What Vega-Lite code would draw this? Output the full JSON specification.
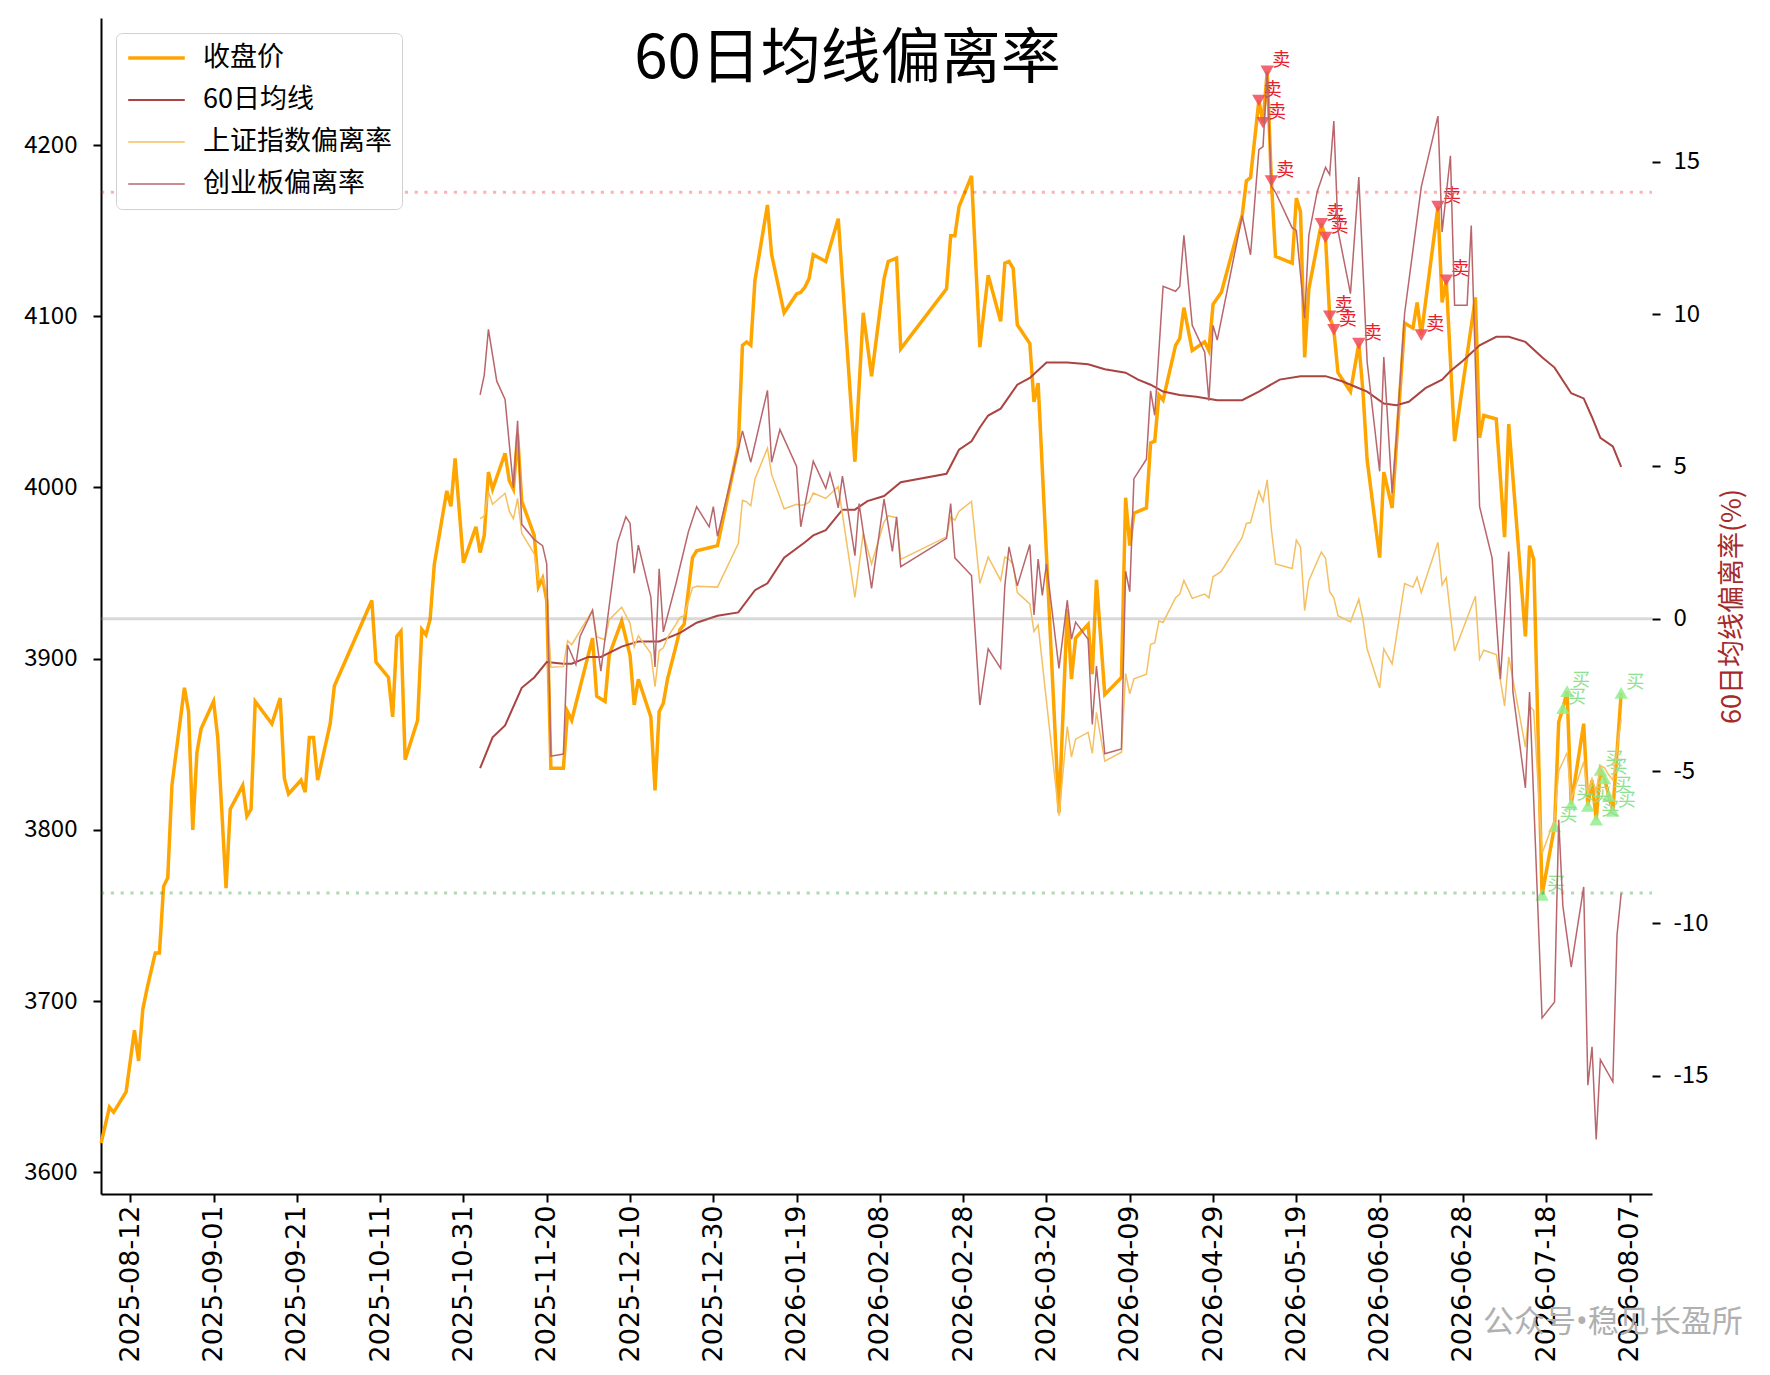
{
  "$schema": "https://vega.github.io/schema/vega-lite/v6.json",
  "width": 1551,
  "height": 1176,
  "autosize": "none",
  "padding": {"left": 101, "top": 18, "right": 118, "bottom": 181},
  "background": "#ffffff",
  "config": {
    "view": {"stroke": null},
    "font": "Noto Sans CJK SC",
    "axis": {"grid": false, "domainColor": "#000000", "tickColor": "#000000", "labelColor": "#000000", "domainWidth": 2, "tickWidth": 2, "tickSize": 8},
    "legend": {
      "orient": "top-left", "offset": 15, "fillColor": "#ffffff", "strokeColor": "#d0d0d0", "cornerRadius": 6, "padding": 10,
      "labelFont": "Noto Sans CJK SC", "labelFontSize": 27, "labelColor": "#000000", "labelOffset": 16, "labelLimit": 400,
      "symbolType": "stroke", "symbolSize": 3200, "clipHeight": 30, "rowPadding": 12
    }
  },
  "title": {"text": "60日均线偏离率", "orient": "top", "anchor": "middle", "frame": "group", "font": "Noto Sans CJK SC", "fontSize": 60, "fontWeight": "normal", "color": "#000000", "baseline": "middle", "offset": -41, "dx": -29, "dy": 61},
  "datasets": {
    "left": [
      {"d":"2025-08-05","s":"收盘价","v":3617},{"d":"2025-08-07","s":"收盘价","v":3638},{"d":"2025-08-08","s":"收盘价","v":3635},{"d":"2025-08-11","s":"收盘价","v":3647},
      {"d":"2025-08-13","s":"收盘价","v":3683},{"d":"2025-08-14","s":"收盘价","v":3665},{"d":"2025-08-15","s":"收盘价","v":3695},{"d":"2025-08-16","s":"收盘价","v":3707},
      {"d":"2025-08-18","s":"收盘价","v":3728},{"d":"2025-08-19","s":"收盘价","v":3728},{"d":"2025-08-20","s":"收盘价","v":3767},{"d":"2025-08-21","s":"收盘价","v":3772},
      {"d":"2025-08-22","s":"收盘价","v":3826},{"d":"2025-08-25","s":"收盘价","v":3883},{"d":"2025-08-26","s":"收盘价","v":3869},{"d":"2025-08-27","s":"收盘价","v":3800},
      {"d":"2025-08-28","s":"收盘价","v":3845},{"d":"2025-08-29","s":"收盘价","v":3859},{"d":"2025-09-01","s":"收盘价","v":3875},{"d":"2025-09-02","s":"收盘价","v":3854},
      {"d":"2025-09-04","s":"收盘价","v":3766},{"d":"2025-09-05","s":"收盘价","v":3812},{"d":"2025-09-08","s":"收盘价","v":3826},{"d":"2025-09-09","s":"收盘价","v":3808},
      {"d":"2025-09-10","s":"收盘价","v":3812},{"d":"2025-09-11","s":"收盘价","v":3875},{"d":"2025-09-15","s":"收盘价","v":3862},{"d":"2025-09-17","s":"收盘价","v":3877},
      {"d":"2025-09-18","s":"收盘价","v":3830},{"d":"2025-09-19","s":"收盘价","v":3821},{"d":"2025-09-22","s":"收盘价","v":3829},{"d":"2025-09-23","s":"收盘价","v":3822},
      {"d":"2025-09-24","s":"收盘价","v":3854},{"d":"2025-09-25","s":"收盘价","v":3854},{"d":"2025-09-26","s":"收盘价","v":3829},{"d":"2025-09-29","s":"收盘价","v":3862},
      {"d":"2025-09-30","s":"收盘价","v":3884},{"d":"2025-10-09","s":"收盘价","v":3934},{"d":"2025-10-10","s":"收盘价","v":3898},{"d":"2025-10-13","s":"收盘价","v":3889},
      {"d":"2025-10-14","s":"收盘价","v":3866},{"d":"2025-10-15","s":"收盘价","v":3913},{"d":"2025-10-16","s":"收盘价","v":3916},{"d":"2025-10-17","s":"收盘价","v":3841},
      {"d":"2025-10-20","s":"收盘价","v":3864},{"d":"2025-10-21","s":"收盘价","v":3917},{"d":"2025-10-22","s":"收盘价","v":3914},{"d":"2025-10-23","s":"收盘价","v":3923},
      {"d":"2025-10-24","s":"收盘价","v":3955},{"d":"2025-10-27","s":"收盘价","v":3998},{"d":"2025-10-28","s":"收盘价","v":3989},{"d":"2025-10-29","s":"收盘价","v":4017},
      {"d":"2025-10-31","s":"收盘价","v":3956},{"d":"2025-11-03","s":"收盘价","v":3977},{"d":"2025-11-04","s":"收盘价","v":3962},{"d":"2025-11-05","s":"收盘价","v":3972},
      {"d":"2025-11-06","s":"收盘价","v":4009},{"d":"2025-11-07","s":"收盘价","v":3999},{"d":"2025-11-10","s":"收盘价","v":4020},{"d":"2025-11-11","s":"收盘价","v":4004},
      {"d":"2025-11-12","s":"收盘价","v":3999},{"d":"2025-11-13","s":"收盘价","v":4031},{"d":"2025-11-14","s":"收盘价","v":3992},{"d":"2025-11-17","s":"收盘价","v":3972},
      {"d":"2025-11-18","s":"收盘价","v":3942},{"d":"2025-11-19","s":"收盘价","v":3947},{"d":"2025-11-20","s":"收盘价","v":3934},{"d":"2025-11-21","s":"收盘价","v":3836},
      {"d":"2025-11-24","s":"收盘价","v":3836},{"d":"2025-11-25","s":"收盘价","v":3869},{"d":"2025-11-26","s":"收盘价","v":3864},{"d":"2025-12-01","s":"收盘价","v":3912},
      {"d":"2025-12-02","s":"收盘价","v":3878},{"d":"2025-12-04","s":"收盘价","v":3875},{"d":"2025-12-05","s":"收盘价","v":3902},{"d":"2025-12-08","s":"收盘价","v":3922},
      {"d":"2025-12-10","s":"收盘价","v":3902},{"d":"2025-12-11","s":"收盘价","v":3873},{"d":"2025-12-12","s":"收盘价","v":3888},{"d":"2025-12-15","s":"收盘价","v":3866},
      {"d":"2025-12-16","s":"收盘价","v":3823},{"d":"2025-12-17","s":"收盘价","v":3869},{"d":"2025-12-18","s":"收盘价","v":3874},{"d":"2025-12-19","s":"收盘价","v":3888},
      {"d":"2025-12-21","s":"收盘价","v":3907},{"d":"2025-12-22","s":"收盘价","v":3917},{"d":"2025-12-23","s":"收盘价","v":3920},{"d":"2025-12-25","s":"收盘价","v":3959},
      {"d":"2025-12-26","s":"收盘价","v":3963},{"d":"2025-12-31","s":"收盘价","v":3966},{"d":"2026-01-05","s":"收盘价","v":4024},{"d":"2026-01-06","s":"收盘价","v":4083},
      {"d":"2026-01-07","s":"收盘价","v":4085},{"d":"2026-01-08","s":"收盘价","v":4083},{"d":"2026-01-09","s":"收盘价","v":4121},{"d":"2026-01-12","s":"收盘价","v":4165},
      {"d":"2026-01-13","s":"收盘价","v":4136},{"d":"2026-01-16","s":"收盘价","v":4102},{"d":"2026-01-19","s":"收盘价","v":4113},{"d":"2026-01-20","s":"收盘价","v":4114},
      {"d":"2026-01-21","s":"收盘价","v":4117},{"d":"2026-01-22","s":"收盘价","v":4122},{"d":"2026-01-23","s":"收盘价","v":4136},{"d":"2026-01-26","s":"收盘价","v":4132},
      {"d":"2026-01-29","s":"收盘价","v":4157},{"d":"2026-02-02","s":"收盘价","v":4015},{"d":"2026-02-04","s":"收盘价","v":4102},{"d":"2026-02-06","s":"收盘价","v":4065},
      {"d":"2026-02-09","s":"收盘价","v":4122},{"d":"2026-02-10","s":"收盘价","v":4132},{"d":"2026-02-12","s":"收盘价","v":4134},{"d":"2026-02-13","s":"收盘价","v":4081},
      {"d":"2026-02-24","s":"收盘价","v":4116},{"d":"2026-02-25","s":"收盘价","v":4147},{"d":"2026-02-26","s":"收盘价","v":4147},{"d":"2026-02-27","s":"收盘价","v":4164},
      {"d":"2026-03-02","s":"收盘价","v":4182},{"d":"2026-03-04","s":"收盘价","v":4082},{"d":"2026-03-06","s":"收盘价","v":4124},{"d":"2026-03-09","s":"收盘价","v":4097},
      {"d":"2026-03-10","s":"收盘价","v":4131},{"d":"2026-03-11","s":"收盘价","v":4132},{"d":"2026-03-12","s":"收盘价","v":4128},{"d":"2026-03-13","s":"收盘价","v":4095},
      {"d":"2026-03-16","s":"收盘价","v":4084},{"d":"2026-03-17","s":"收盘价","v":4050},{"d":"2026-03-18","s":"收盘价","v":4061},{"d":"2026-03-23","s":"收盘价","v":3810},
      {"d":"2026-03-25","s":"收盘价","v":3929},{"d":"2026-03-26","s":"收盘价","v":3888},{"d":"2026-03-27","s":"收盘价","v":3912},{"d":"2026-03-30","s":"收盘价","v":3920},
      {"d":"2026-03-31","s":"收盘价","v":3891},{"d":"2026-04-01","s":"收盘价","v":3946},{"d":"2026-04-03","s":"收盘价","v":3879},{"d":"2026-04-07","s":"收盘价","v":3889},
      {"d":"2026-04-08","s":"收盘价","v":3994},{"d":"2026-04-09","s":"收盘价","v":3966},{"d":"2026-04-10","s":"收盘价","v":3985},{"d":"2026-04-13","s":"收盘价","v":3988},
      {"d":"2026-04-14","s":"收盘价","v":4026},{"d":"2026-04-15","s":"收盘价","v":4027},{"d":"2026-04-16","s":"收盘价","v":4054},{"d":"2026-04-17","s":"收盘价","v":4051},
      {"d":"2026-04-20","s":"收盘价","v":4083},{"d":"2026-04-21","s":"收盘价","v":4087},{"d":"2026-04-22","s":"收盘价","v":4105},{"d":"2026-04-24","s":"收盘价","v":4080},
      {"d":"2026-04-27","s":"收盘价","v":4085},{"d":"2026-04-28","s":"收盘价","v":4080},{"d":"2026-04-29","s":"收盘价","v":4107},{"d":"2026-05-01","s":"收盘价","v":4114},
      {"d":"2026-05-06","s":"收盘价","v":4159},{"d":"2026-05-07","s":"收盘价","v":4179},{"d":"2026-05-08","s":"收盘价","v":4181},{"d":"2026-05-10","s":"收盘价","v":4226},
      {"d":"2026-05-11","s":"收盘价","v":4213},{"d":"2026-05-12","s":"收盘价","v":4243},{"d":"2026-05-13","s":"收盘价","v":4179},{"d":"2026-05-14","s":"收盘价","v":4135},
      {"d":"2026-05-18","s":"收盘价","v":4131},{"d":"2026-05-19","s":"收盘价","v":4169},{"d":"2026-05-20","s":"收盘价","v":4161},{"d":"2026-05-21","s":"收盘价","v":4076},
      {"d":"2026-05-22","s":"收盘价","v":4116},{"d":"2026-05-25","s":"收盘价","v":4154},{"d":"2026-05-26","s":"收盘价","v":4146},{"d":"2026-05-27","s":"收盘价","v":4100},
      {"d":"2026-05-28","s":"收盘价","v":4092},{"d":"2026-05-29","s":"收盘价","v":4067},{"d":"2026-06-01","s":"收盘价","v":4056},{"d":"2026-06-03","s":"收盘价","v":4084},
      {"d":"2026-06-04","s":"收盘价","v":4056},{"d":"2026-06-05","s":"收盘价","v":4016},{"d":"2026-06-08","s":"收盘价","v":3959},{"d":"2026-06-09","s":"收盘价","v":4009},
      {"d":"2026-06-11","s":"收盘价","v":3988},{"d":"2026-06-14","s":"收盘价","v":4096},{"d":"2026-06-16","s":"收盘价","v":4093},{"d":"2026-06-17","s":"收盘价","v":4108},
      {"d":"2026-06-18","s":"收盘价","v":4089},{"d":"2026-06-22","s":"收盘价","v":4164},{"d":"2026-06-23","s":"收盘价","v":4108},{"d":"2026-06-24","s":"收盘价","v":4121},
      {"d":"2026-06-26","s":"收盘价","v":4027},{"d":"2026-07-01","s":"收盘价","v":4111},{"d":"2026-07-02","s":"收盘价","v":4029},{"d":"2026-07-03","s":"收盘价","v":4042},
      {"d":"2026-07-06","s":"收盘价","v":4040},{"d":"2026-07-08","s":"收盘价","v":3971},{"d":"2026-07-09","s":"收盘价","v":4037},{"d":"2026-07-13","s":"收盘价","v":3913},
      {"d":"2026-07-14","s":"收盘价","v":3966},{"d":"2026-07-15","s":"收盘价","v":3958},{"d":"2026-07-17","s":"收盘价","v":3762},{"d":"2026-07-20","s":"收盘价","v":3802},
      {"d":"2026-07-21","s":"收盘价","v":3863},{"d":"2026-07-22","s":"收盘价","v":3871},{"d":"2026-07-23","s":"收盘价","v":3881},{"d":"2026-07-24","s":"收盘价","v":3815},
      {"d":"2026-07-27","s":"收盘价","v":3862},{"d":"2026-07-28","s":"收盘价","v":3814},{"d":"2026-07-29","s":"收盘价","v":3829},{"d":"2026-07-30","s":"收盘价","v":3806},
      {"d":"2026-07-31","s":"收盘价","v":3835},{"d":"2026-08-01","s":"收盘价","v":3830},{"d":"2026-08-02","s":"收盘价","v":3820},{"d":"2026-08-03","s":"收盘价","v":3811},
      {"d":"2026-08-05","s":"收盘价","v":3880},
      {"d":"2025-11-04","s":"60日均线","v":3836},{"d":"2025-11-07","s":"60日均线","v":3854},{"d":"2025-11-10","s":"60日均线","v":3861},{"d":"2025-11-14","s":"60日均线","v":3883},
      {"d":"2025-11-17","s":"60日均线","v":3889},{"d":"2025-11-20","s":"60日均线","v":3898},{"d":"2025-11-24","s":"60日均线","v":3897},{"d":"2025-11-26","s":"60日均线","v":3897},
      {"d":"2025-11-30","s":"60日均线","v":3901},{"d":"2025-12-03","s":"60日均线","v":3901},{"d":"2025-12-08","s":"60日均线","v":3907},{"d":"2025-12-12","s":"60日均线","v":3910},
      {"d":"2025-12-17","s":"60日均线","v":3910},{"d":"2025-12-22","s":"60日均线","v":3915},{"d":"2025-12-26","s":"60日均线","v":3921},{"d":"2025-12-31","s":"60日均线","v":3925},
      {"d":"2026-01-05","s":"60日均线","v":3927},{"d":"2026-01-09","s":"60日均线","v":3940},{"d":"2026-01-12","s":"60日均线","v":3944},{"d":"2026-01-16","s":"60日均线","v":3959},
      {"d":"2026-01-21","s":"60日均线","v":3968},{"d":"2026-01-23","s":"60日均线","v":3972},{"d":"2026-01-26","s":"60日均线","v":3975},{"d":"2026-01-30","s":"60日均线","v":3987},
      {"d":"2026-02-02","s":"60日均线","v":3987},{"d":"2026-02-05","s":"60日均线","v":3992},{"d":"2026-02-09","s":"60日均线","v":3995},{"d":"2026-02-13","s":"60日均线","v":4003},
      {"d":"2026-02-24","s":"60日均线","v":4008},{"d":"2026-02-27","s":"60日均线","v":4022},{"d":"2026-03-02","s":"60日均线","v":4027},{"d":"2026-03-04","s":"60日均线","v":4035},
      {"d":"2026-03-06","s":"60日均线","v":4042},{"d":"2026-03-09","s":"60日均线","v":4046},{"d":"2026-03-13","s":"60日均线","v":4060},{"d":"2026-03-16","s":"60日均线","v":4064},
      {"d":"2026-03-20","s":"60日均线","v":4073},{"d":"2026-03-25","s":"60日均线","v":4073},{"d":"2026-03-30","s":"60日均线","v":4072},{"d":"2026-04-03","s":"60日均线","v":4069},
      {"d":"2026-04-08","s":"60日均线","v":4067},{"d":"2026-04-11","s":"60日均线","v":4063},{"d":"2026-04-14","s":"60日均线","v":4060},{"d":"2026-04-17","s":"60日均线","v":4056},
      {"d":"2026-04-21","s":"60日均线","v":4054},{"d":"2026-04-25","s":"60日均线","v":4053},{"d":"2026-04-30","s":"60日均线","v":4051},{"d":"2026-05-06","s":"60日均线","v":4051},
      {"d":"2026-05-10","s":"60日均线","v":4056},{"d":"2026-05-15","s":"60日均线","v":4063},{"d":"2026-05-20","s":"60日均线","v":4065},{"d":"2026-05-26","s":"60日均线","v":4065},
      {"d":"2026-05-30","s":"60日均线","v":4062},{"d":"2026-06-01","s":"60日均线","v":4060},{"d":"2026-06-05","s":"60日均线","v":4056},{"d":"2026-06-09","s":"60日均线","v":4049},
      {"d":"2026-06-12","s":"60日均线","v":4048},{"d":"2026-06-15","s":"60日均线","v":4050},{"d":"2026-06-19","s":"60日均线","v":4058},{"d":"2026-06-23","s":"60日均线","v":4063},
      {"d":"2026-06-25","s":"60日均线","v":4068},{"d":"2026-06-28","s":"60日均线","v":4074},{"d":"2026-07-02","s":"60日均线","v":4083},{"d":"2026-07-06","s":"60日均线","v":4088},
      {"d":"2026-07-09","s":"60日均线","v":4088},{"d":"2026-07-13","s":"60日均线","v":4085},{"d":"2026-07-17","s":"60日均线","v":4076},{"d":"2026-07-20","s":"60日均线","v":4070},
      {"d":"2026-07-24","s":"60日均线","v":4055},{"d":"2026-07-27","s":"60日均线","v":4052},{"d":"2026-07-29","s":"60日均线","v":4041},{"d":"2026-07-31","s":"60日均线","v":4029},
      {"d":"2026-08-03","s":"60日均线","v":4024},{"d":"2026-08-05","s":"60日均线","v":4012}
    ],
    "right": [
      {"d":"2025-11-04","s":"上证指数偏离率","v":3.28},{"d":"2025-11-05","s":"上证指数偏离率","v":3.38},{"d":"2025-11-06","s":"上证指数偏离率","v":4.18},{"d":"2025-11-07","s":"上证指数偏离率","v":3.76},
      {"d":"2025-11-10","s":"上证指数偏离率","v":4.12},{"d":"2025-11-11","s":"上证指数偏离率","v":3.54},{"d":"2025-11-12","s":"上证指数偏离率","v":3.28},{"d":"2025-11-13","s":"上证指数偏离率","v":3.95},
      {"d":"2025-11-14","s":"上证指数偏离率","v":2.81},{"d":"2025-11-17","s":"上证指数偏离率","v":2.13},{"d":"2025-11-18","s":"上证指数偏离率","v":1.28},{"d":"2025-11-19","s":"上证指数偏离率","v":1.34},
      {"d":"2025-11-20","s":"上证指数偏离率","v":0.92},{"d":"2025-11-21","s":"上证指数偏离率","v":-1.59},{"d":"2025-11-24","s":"上证指数偏离率","v":-1.57},{"d":"2025-11-25","s":"上证指数偏离率","v":-0.72},
      {"d":"2025-11-26","s":"上证指数偏离率","v":-0.85},{"d":"2025-12-01","s":"上证指数偏离率","v":0.28},{"d":"2025-12-02","s":"上证指数偏离率","v":-0.59},{"d":"2025-12-04","s":"上证指数偏离率","v":-0.69},
      {"d":"2025-12-05","s":"上证指数偏离率","v":-0.03},{"d":"2025-12-08","s":"上证指数偏离率","v":0.38},{"d":"2025-12-10","s":"上证指数偏离率","v":-0.15},{"d":"2025-12-11","s":"上证指数偏离率","v":-0.92},
      {"d":"2025-12-12","s":"上证指数偏离率","v":-0.56},{"d":"2025-12-15","s":"上证指数偏离率","v":-1.13},{"d":"2025-12-16","s":"上证指数偏离率","v":-2.23},{"d":"2025-12-17","s":"上证指数偏离率","v":-1.05},
      {"d":"2025-12-18","s":"上证指数偏离率","v":-0.95},{"d":"2025-12-19","s":"上证指数偏离率","v":-0.61},{"d":"2025-12-21","s":"上证指数偏离率","v":-0.18},{"d":"2025-12-22","s":"上证指数偏离率","v":0.05},
      {"d":"2025-12-23","s":"上证指数偏离率","v":0.10},{"d":"2025-12-25","s":"上证指数偏离率","v":1.02},{"d":"2025-12-26","s":"上证指数偏离率","v":1.07},{"d":"2025-12-31","s":"上证指数偏离率","v":1.04},
      {"d":"2026-01-05","s":"上证指数偏离率","v":2.47},{"d":"2026-01-06","s":"上证指数偏离率","v":3.89},{"d":"2026-01-07","s":"上证指数偏离率","v":3.84},{"d":"2026-01-08","s":"上证指数偏离率","v":3.71},
      {"d":"2026-01-09","s":"上证指数偏离率","v":4.59},{"d":"2026-01-12","s":"上证指数偏离率","v":5.60},{"d":"2026-01-13","s":"上证指数偏离率","v":4.74},{"d":"2026-01-16","s":"上证指数偏离率","v":3.61},
      {"d":"2026-01-19","s":"上证指数偏离率","v":3.76},{"d":"2026-01-20","s":"上证指数偏离率","v":3.73},{"d":"2026-01-21","s":"上证指数偏离率","v":3.75},{"d":"2026-01-22","s":"上证指数偏离率","v":3.83},
      {"d":"2026-01-23","s":"上证指数偏离率","v":4.13},{"d":"2026-01-26","s":"上证指数偏离率","v":3.95},{"d":"2026-01-29","s":"上证指数偏离率","v":4.34},{"d":"2026-02-02","s":"上证指数偏离率","v":0.70},
      {"d":"2026-02-04","s":"上证指数偏离率","v":2.81},{"d":"2026-02-06","s":"上证指数偏离率","v":1.80},{"d":"2026-02-09","s":"上证指数偏离率","v":3.18},{"d":"2026-02-10","s":"上证指数偏离率","v":3.38},
      {"d":"2026-02-12","s":"上证指数偏离率","v":3.32},{"d":"2026-02-13","s":"上证指数偏离率","v":1.95},{"d":"2026-02-24","s":"上证指数偏离率","v":2.69},{"d":"2026-02-25","s":"上证指数偏离率","v":3.34},
      {"d":"2026-02-26","s":"上证指数偏离率","v":3.24},{"d":"2026-02-27","s":"上证指数偏离率","v":3.53},{"d":"2026-03-02","s":"上证指数偏离率","v":3.85},{"d":"2026-03-04","s":"上证指数偏离率","v":1.16},
      {"d":"2026-03-06","s":"上证指数偏离率","v":2.03},{"d":"2026-03-09","s":"上证指数偏离率","v":1.26},{"d":"2026-03-10","s":"上证指数偏离率","v":2.03},{"d":"2026-03-11","s":"上证指数偏离率","v":1.95},
      {"d":"2026-03-12","s":"上证指数偏离率","v":1.78},{"d":"2026-03-13","s":"上证指数偏离率","v":0.86},{"d":"2026-03-16","s":"上证指数偏离率","v":0.49},{"d":"2026-03-17","s":"上证指数偏离率","v":-0.42},
      {"d":"2026-03-18","s":"上证指数偏离率","v":-0.20},{"d":"2026-03-23","s":"上证指数偏离率","v":-6.46},{"d":"2026-03-25","s":"上证指数偏离率","v":-3.54},{"d":"2026-03-26","s":"上证指数偏离率","v":-4.54},
      {"d":"2026-03-27","s":"上证指数偏离率","v":-3.95},{"d":"2026-03-30","s":"上证指数偏离率","v":-3.73},{"d":"2026-03-31","s":"上证指数偏离率","v":-4.42},{"d":"2026-04-01","s":"上证指数偏离率","v":-3.07},
      {"d":"2026-04-03","s":"上证指数偏离率","v":-4.67},{"d":"2026-04-07","s":"上证指数偏离率","v":-4.38},{"d":"2026-04-08","s":"上证指数偏离率","v":-1.79},{"d":"2026-04-09","s":"上证指数偏离率","v":-2.46},
      {"d":"2026-04-10","s":"上证指数偏离率","v":-1.97},{"d":"2026-04-13","s":"上证指数偏离率","v":-1.82},{"d":"2026-04-14","s":"上证指数偏离率","v":-0.84},{"d":"2026-04-15","s":"上证指数偏离率","v":-0.79},
      {"d":"2026-04-16","s":"上证指数偏离率","v":-0.07},{"d":"2026-04-17","s":"上证指数偏离率","v":-0.12},{"d":"2026-04-20","s":"上证指数偏离率","v":0.69},{"d":"2026-04-21","s":"上证指数偏离率","v":0.81},
      {"d":"2026-04-22","s":"上证指数偏离率","v":1.26},{"d":"2026-04-24","s":"上证指数偏离率","v":0.67},{"d":"2026-04-27","s":"上证指数偏离率","v":0.81},{"d":"2026-04-28","s":"上证指数偏离率","v":0.69},
      {"d":"2026-04-29","s":"上证指数偏离率","v":1.38},{"d":"2026-05-01","s":"上证指数偏离率","v":1.56},{"d":"2026-05-06","s":"上证指数偏离率","v":2.67},{"d":"2026-05-07","s":"上证指数偏离率","v":3.13},
      {"d":"2026-05-08","s":"上证指数偏离率","v":3.16},{"d":"2026-05-10","s":"上证指数偏离率","v":4.19},{"d":"2026-05-11","s":"上证指数偏离率","v":3.85},{"d":"2026-05-12","s":"上证指数偏离率","v":4.56},
      {"d":"2026-05-13","s":"上证指数偏离率","v":2.93},{"d":"2026-05-14","s":"上证指数偏离率","v":1.80},{"d":"2026-05-18","s":"上证指数偏离率","v":1.65},{"d":"2026-05-19","s":"上证指数偏离率","v":2.58},
      {"d":"2026-05-20","s":"上证指数偏离率","v":2.36},{"d":"2026-05-21","s":"上证指数偏离率","v":0.27},{"d":"2026-05-22","s":"上证指数偏离率","v":1.25},{"d":"2026-05-25","s":"上证指数偏离率","v":2.19},
      {"d":"2026-05-26","s":"上证指数偏离率","v":1.99},{"d":"2026-05-27","s":"上证指数偏离率","v":0.89},{"d":"2026-05-28","s":"上证指数偏离率","v":0.69},{"d":"2026-05-29","s":"上证指数偏离率","v":0.10},
      {"d":"2026-06-01","s":"上证指数偏离率","v":-0.10},{"d":"2026-06-03","s":"上证指数偏离率","v":0.64},{"d":"2026-06-04","s":"上证指数偏离率","v":-0.02},{"d":"2026-06-05","s":"上证指数偏离率","v":-0.99},
      {"d":"2026-06-08","s":"上证指数偏离率","v":-2.27},{"d":"2026-06-09","s":"上证指数偏离率","v":-0.99},{"d":"2026-06-11","s":"上证指数偏离率","v":-1.48},{"d":"2026-06-14","s":"上证指数偏离率","v":1.16},
      {"d":"2026-06-16","s":"上证指数偏离率","v":1.04},{"d":"2026-06-17","s":"上证指数偏离率","v":1.36},{"d":"2026-06-18","s":"上证指数偏离率","v":0.86},{"d":"2026-06-22","s":"上证指数偏离率","v":2.51},
      {"d":"2026-06-23","s":"上证指数偏离率","v":1.11},{"d":"2026-06-24","s":"上证指数偏离率","v":1.35},{"d":"2026-06-26","s":"上证指数偏离率","v":-1.06},{"d":"2026-07-01","s":"上证指数偏离率","v":0.74},
      {"d":"2026-07-02","s":"上证指数偏离率","v":-1.32},{"d":"2026-07-03","s":"上证指数偏离率","v":-1.03},{"d":"2026-07-06","s":"上证指数偏离率","v":-1.17},{"d":"2026-07-08","s":"上证指数偏离率","v":-2.86},
      {"d":"2026-07-09","s":"上证指数偏离率","v":-1.25},{"d":"2026-07-13","s":"上证指数偏离率","v":-4.21},{"d":"2026-07-14","s":"上证指数偏离率","v":-2.87},{"d":"2026-07-15","s":"上证指数偏离率","v":-3.01},
      {"d":"2026-07-17","s":"上证指数偏离率","v":-7.70},{"d":"2026-07-20","s":"上证指数偏离率","v":-6.58},{"d":"2026-07-21","s":"上证指数偏离率","v":-4.99},{"d":"2026-07-22","s":"上证指数偏离率","v":-4.70},
      {"d":"2026-07-23","s":"上证指数偏离率","v":-4.39},{"d":"2026-07-24","s":"上证指数偏离率","v":-5.92},{"d":"2026-07-27","s":"上证指数偏离率","v":-4.69},{"d":"2026-07-28","s":"上证指数偏离率","v":-5.76},
      {"d":"2026-07-29","s":"上证指数偏离率","v":-5.25},{"d":"2026-07-30","s":"上证指数偏离率","v":-5.68},{"d":"2026-07-31","s":"上证指数偏离率","v":-4.82},{"d":"2026-08-01","s":"上证指数偏离率","v":-4.89},
      {"d":"2026-08-02","s":"上证指数偏离率","v":-5.12},{"d":"2026-08-03","s":"上证指数偏离率","v":-5.29},{"d":"2026-08-05","s":"上证指数偏离率","v":-3.29},
      {"d":"2025-11-04","s":"创业板偏离率","v":7.35},{"d":"2025-11-05","s":"创业板偏离率","v":8.0},{"d":"2025-11-06","s":"创业板偏离率","v":9.5},{"d":"2025-11-08","s":"创业板偏离率","v":7.8},
      {"d":"2025-11-10","s":"创业板偏离率","v":7.2},{"d":"2025-11-12","s":"创业板偏离率","v":4.3},{"d":"2025-11-13","s":"创业板偏离率","v":6.5},{"d":"2025-11-14","s":"创业板偏离率","v":3.1},
      {"d":"2025-11-17","s":"创业板偏离率","v":2.6},{"d":"2025-11-19","s":"创业板偏离率","v":2.4},{"d":"2025-11-20","s":"创业板偏离率","v":1.8},{"d":"2025-11-21","s":"创业板偏离率","v":-4.51},
      {"d":"2025-11-24","s":"创业板偏离率","v":-4.44},{"d":"2025-11-25","s":"创业板偏离率","v":-0.86},{"d":"2025-11-27","s":"创业板偏离率","v":-1.5},{"d":"2025-11-28","s":"创业板偏离率","v":-0.58},
      {"d":"2025-12-01","s":"创业板偏离率","v":0.28},{"d":"2025-12-03","s":"创业板偏离率","v":-1.72},{"d":"2025-12-05","s":"创业板偏离率","v":0.42},{"d":"2025-12-07","s":"创业板偏离率","v":2.5},
      {"d":"2025-12-09","s":"创业板偏离率","v":3.35},{"d":"2025-12-10","s":"创业板偏离率","v":3.14},{"d":"2025-12-11","s":"创业板偏离率","v":1.5},{"d":"2025-12-12","s":"创业板偏离率","v":2.42},
      {"d":"2025-12-15","s":"创业板偏离率","v":0.71},{"d":"2025-12-16","s":"创业板偏离率","v":-1.58},{"d":"2025-12-17","s":"创业板偏离率","v":1.64},{"d":"2025-12-18","s":"创业板偏离率","v":-0.43},
      {"d":"2025-12-21","s":"创业板偏离率","v":1.14},{"d":"2025-12-24","s":"创业板偏离率","v":2.85},{"d":"2025-12-26","s":"创业板偏离率","v":3.68},{"d":"2025-12-29","s":"创业板偏离率","v":3.02},
      {"d":"2025-12-30","s":"创业板偏离率","v":3.68},{"d":"2025-12-31","s":"创业板偏离率","v":2.71},{"d":"2026-01-05","s":"创业板偏离率","v":5.57},{"d":"2026-01-06","s":"创业板偏离率","v":6.17},
      {"d":"2026-01-08","s":"创业板偏离率","v":5.14},{"d":"2026-01-12","s":"创业板偏离率","v":7.5},{"d":"2026-01-13","s":"创业板偏离率","v":5.14},{"d":"2026-01-15","s":"创业板偏离率","v":6.21},
      {"d":"2026-01-19","s":"创业板偏离率","v":5.0},{"d":"2026-01-20","s":"创业板偏离率","v":3.02},{"d":"2026-01-23","s":"创业板偏离率","v":5.17},{"d":"2026-01-26","s":"创业板偏离率","v":4.28},
      {"d":"2026-01-27","s":"创业板偏离率","v":4.78},{"d":"2026-01-28","s":"创业板偏离率","v":4.28},{"d":"2026-01-29","s":"创业板偏离率","v":3.64},{"d":"2026-01-30","s":"创业板偏离率","v":4.68},
      {"d":"2026-01-31","s":"创业板偏离率","v":3.85},{"d":"2026-02-02","s":"创业板偏离率","v":2.07},{"d":"2026-02-03","s":"创业板偏离率","v":3.78},{"d":"2026-02-06","s":"创业板偏离率","v":1.0},
      {"d":"2026-02-09","s":"创业板偏离率","v":3.93},{"d":"2026-02-11","s":"创业板偏离率","v":2.21},{"d":"2026-02-12","s":"创业板偏离率","v":3.35},{"d":"2026-02-13","s":"创业板偏离率","v":1.71},
      {"d":"2026-02-24","s":"创业板偏离率","v":2.64},{"d":"2026-02-25","s":"创业板偏离率","v":3.78},{"d":"2026-02-26","s":"创业板偏离率","v":2.0},{"d":"2026-03-02","s":"创业板偏离率","v":1.42},
      {"d":"2026-03-04","s":"创业板偏离率","v":-2.83},{"d":"2026-03-06","s":"创业板偏离率","v":-0.99},{"d":"2026-03-09","s":"创业板偏离率","v":-1.63},{"d":"2026-03-10","s":"创业板偏离率","v":1.08},
      {"d":"2026-03-11","s":"创业板偏离率","v":2.36},{"d":"2026-03-13","s":"创业板偏离率","v":1.08},{"d":"2026-03-16","s":"创业板偏离率","v":2.44},{"d":"2026-03-17","s":"创业板偏离率","v":0.13},
      {"d":"2026-03-18","s":"创业板偏离率","v":1.96},{"d":"2026-03-19","s":"创业板偏离率","v":0.77},{"d":"2026-03-20","s":"创业板偏离率","v":1.8},{"d":"2026-03-23","s":"创业板偏离率","v":-1.63},
      {"d":"2026-03-25","s":"创业板偏离率","v":0.61},{"d":"2026-03-26","s":"创业板偏离率","v":-0.67},{"d":"2026-03-27","s":"创业板偏离率","v":-0.11},{"d":"2026-03-30","s":"创业板偏离率","v":-0.67},
      {"d":"2026-03-31","s":"创业板偏离率","v":-3.47},{"d":"2026-04-01","s":"创业板偏离率","v":-1.55},{"d":"2026-04-03","s":"创业板偏离率","v":-4.43},{"d":"2026-04-07","s":"创业板偏离率","v":-4.27},
      {"d":"2026-04-08","s":"创业板偏离率","v":1.56},{"d":"2026-04-09","s":"创业板偏离率","v":0.89},{"d":"2026-04-10","s":"创业板偏离率","v":4.6},{"d":"2026-04-13","s":"创业板偏离率","v":5.24},
      {"d":"2026-04-14","s":"创业板偏离率","v":7.48},{"d":"2026-04-15","s":"创业板偏离率","v":6.68},{"d":"2026-04-17","s":"创业板偏离率","v":10.91},{"d":"2026-04-20","s":"创业板偏离率","v":10.75},
      {"d":"2026-04-21","s":"创业板偏离率","v":10.91},{"d":"2026-04-22","s":"创业板偏离率","v":12.59},{"d":"2026-04-24","s":"创业板偏离率","v":9.63},{"d":"2026-04-27","s":"创业板偏离率","v":8.75},
      {"d":"2026-04-28","s":"创业板偏离率","v":7.16},{"d":"2026-04-29","s":"创业板偏离率","v":9.63},{"d":"2026-04-30","s":"创业板偏离率","v":9.15},{"d":"2026-05-06","s":"创业板偏离率","v":13.23},
      {"d":"2026-05-08","s":"创业板偏离率","v":11.95},{"d":"2026-05-10","s":"创业板偏离率","v":15.4},{"d":"2026-05-11","s":"创业板偏离率","v":15.5},{"d":"2026-05-12","s":"创业板偏离率","v":17.95},
      {"d":"2026-05-13","s":"创业板偏离率","v":14.2},{"d":"2026-05-14","s":"创业板偏离率","v":14.0},{"d":"2026-05-18","s":"创业板偏离率","v":12.83},{"d":"2026-05-19","s":"创业板偏离率","v":12.75},
      {"d":"2026-05-21","s":"创业板偏离率","v":9.87},{"d":"2026-05-22","s":"创业板偏离率","v":12.59},{"d":"2026-05-24","s":"创业板偏离率","v":14.02},{"d":"2026-05-26","s":"创业板偏离率","v":14.82},
      {"d":"2026-05-27","s":"创业板偏离率","v":14.58},{"d":"2026-05-28","s":"创业板偏离率","v":16.34},{"d":"2026-05-29","s":"创业板偏离率","v":12.75},{"d":"2026-06-01","s":"创业板偏离率","v":10.67},
      {"d":"2026-06-03","s":"创业板偏离率","v":14.5},{"d":"2026-06-05","s":"创业板偏离率","v":8.43},{"d":"2026-06-08","s":"创业板偏离率","v":4.84},{"d":"2026-06-09","s":"创业板偏离率","v":8.59},
      {"d":"2026-06-11","s":"创业板偏离率","v":4.12},{"d":"2026-06-12","s":"创业板偏离率","v":5.88},{"d":"2026-06-14","s":"创业板偏离率","v":10.03},{"d":"2026-06-18","s":"创业板偏离率","v":14.18},
      {"d":"2026-06-22","s":"创业板偏离率","v":16.5},{"d":"2026-06-23","s":"创业板偏离率","v":12.7},{"d":"2026-06-25","s":"创业板偏离率","v":15.2},{"d":"2026-06-26","s":"创业板偏离率","v":10.29},
      {"d":"2026-06-29","s":"创业板偏离率","v":10.29},{"d":"2026-06-30","s":"创业板偏离率","v":12.91},{"d":"2026-07-02","s":"创业板偏离率","v":3.68},{"d":"2026-07-05","s":"创业板偏离率","v":2.0},
      {"d":"2026-07-07","s":"创业板偏离率","v":-1.98},{"d":"2026-07-09","s":"创业板偏离率","v":2.21},{"d":"2026-07-10","s":"创业板偏离率","v":-2.4},{"d":"2026-07-13","s":"创业板偏离率","v":-5.55},
      {"d":"2026-07-14","s":"创业板偏离率","v":-2.4},{"d":"2026-07-17","s":"创业板偏离率","v":-13.1},{"d":"2026-07-20","s":"创业板偏离率","v":-12.58},{"d":"2026-07-21","s":"创业板偏离率","v":-6.6},
      {"d":"2026-07-22","s":"创业板偏离率","v":-9.43},{"d":"2026-07-24","s":"创业板偏离率","v":-11.43},{"d":"2026-07-27","s":"创业板偏离率","v":-8.8},{"d":"2026-07-28","s":"创业板偏离率","v":-15.31},
      {"d":"2026-07-29","s":"创业板偏离率","v":-14.05},{"d":"2026-07-30","s":"创业板偏离率","v":-17.09},{"d":"2026-07-31","s":"创业板偏离率","v":-14.47},{"d":"2026-08-03","s":"创业板偏离率","v":-15.2},
      {"d":"2026-08-04","s":"创业板偏离率","v":-10.38},{"d":"2026-08-05","s":"创业板偏离率","v":-9.01}
    ],
    "sell": [
      {"d":"2026-05-10","v":4226,"t":"卖"},{"d":"2026-05-11","v":4213,"t":"卖"},{"d":"2026-05-12","v":4243,"t":"卖"},{"d":"2026-05-13","v":4179,"t":"卖"},
      {"d":"2026-05-25","v":4154,"t":"卖"},{"d":"2026-05-26","v":4146,"t":"卖"},{"d":"2026-05-27","v":4100,"t":"卖"},{"d":"2026-05-28","v":4092,"t":"卖"},
      {"d":"2026-06-03","v":4084,"t":"卖"},{"d":"2026-06-18","v":4089,"t":"卖"},{"d":"2026-06-22","v":4164,"t":"卖"},{"d":"2026-06-24","v":4121,"t":"卖"}
    ],
    "buy": [
      {"d":"2026-07-17","v":3762,"t":"买"},{"d":"2026-07-20","v":3802,"t":"买"},{"d":"2026-07-22","v":3871,"t":"买"},{"d":"2026-07-23","v":3881,"t":"买"},
      {"d":"2026-07-24","v":3815,"t":"买"},{"d":"2026-07-28","v":3814,"t":"买"},{"d":"2026-07-30","v":3806,"t":"买"},{"d":"2026-07-31","v":3835,"t":"买"},
      {"d":"2026-08-01","v":3830,"t":"买"},{"d":"2026-08-02","v":3820,"t":"买"},{"d":"2026-08-03","v":3811,"t":"买"},{"d":"2026-08-05","v":3880,"t":"买"}
    ]
  },
  "encoding": {
    "x": {
      "field": "d", "type": "temporal",
      "scale": {"type": "utc", "domain": [{"year": 2025, "month": 8, "date": 4, "hours": 23, "minutes": 17, "utc": true}, {"year": 2026, "month": 8, "date": 12, "hours": 9, "minutes": 36, "utc": true}]},
      "axis": {
        "values": [
          {"year": 2025, "month": 8, "date": 12, "utc": true}, {"year": 2025, "month": 9, "date": 1, "utc": true}, {"year": 2025, "month": 9, "date": 21, "utc": true},
          {"year": 2025, "month": 10, "date": 11, "utc": true}, {"year": 2025, "month": 10, "date": 31, "utc": true}, {"year": 2025, "month": 11, "date": 20, "utc": true},
          {"year": 2025, "month": 12, "date": 10, "utc": true}, {"year": 2025, "month": 12, "date": 30, "utc": true}, {"year": 2026, "month": 1, "date": 19, "utc": true},
          {"year": 2026, "month": 2, "date": 8, "utc": true}, {"year": 2026, "month": 2, "date": 28, "utc": true}, {"year": 2026, "month": 3, "date": 20, "utc": true},
          {"year": 2026, "month": 4, "date": 9, "utc": true}, {"year": 2026, "month": 4, "date": 29, "utc": true}, {"year": 2026, "month": 5, "date": 19, "utc": true},
          {"year": 2026, "month": 6, "date": 8, "utc": true}, {"year": 2026, "month": 6, "date": 28, "utc": true}, {"year": 2026, "month": 7, "date": 18, "utc": true},
          {"year": 2026, "month": 8, "date": 7, "utc": true}
        ],
        "format": "%Y-%m-%d", "labelAngle": 270, "labelFont": "DejaVu Sans", "labelFontSize": 27, "labelPadding": 3,
        "labelOverlap": false, "labelFlush": false, "title": null
      }
    }
  },
  "resolve": {"scale": {"y": "independent"}},
  "layer": [
    {
      "encoding": {
        "y": {
          "field": "v", "type": "quantitative",
          "scale": {"domain": [3587.3, 4274.2], "nice": false, "zero": false},
          "axis": {"orient": "left", "values": [3600, 3700, 3800, 3900, 4000, 4100, 4200], "format": "d", "title": null, "labelFontSize": 24, "labelPadding": 16}
        }
      },
      "layer": [
        {
          "data": {"name": "left"},
          "mark": {"type": "line"},
          "encoding": {
            "color": {"field": "s", "type": "nominal", "scale": {"domain": ["收盘价", "60日均线", "上证指数偏离率", "创业板偏离率"], "range": ["#FFA500", "#A94442", "#F5C061", "#B8666C"]}, "legend": {"title": null}},
            "strokeWidth": {"field": "s", "type": "nominal", "scale": {"type": "ordinal", "domain": ["收盘价", "60日均线", "上证指数偏离率", "创业板偏离率"], "range": [3.5, 2, 1.5, 1.5]}, "legend": {"title": null}}
          }
        },
        {
          "data": {"name": "sell"},
          "mark": {"type": "point", "shape": "triangle-down", "filled": true, "size": 180, "color": "#F04A5A", "opacity": 0.85}
        },
        {
          "data": {"name": "sell"},
          "mark": {"type": "text", "dx": 14, "dy": -10, "fontSize": 18, "color": "#E8202A", "font": "Noto Sans CJK SC"},
          "encoding": {"text": {"field": "t"}}
        },
        {
          "data": {"name": "buy"},
          "mark": {"type": "point", "shape": "triangle-up", "filled": true, "size": 180, "color": "#90EE90", "opacity": 0.85}
        },
        {
          "data": {"name": "buy"},
          "mark": {"type": "text", "dx": 14, "dy": -10, "fontSize": 18, "color": "#8FE08F", "font": "Noto Sans CJK SC"},
          "encoding": {"text": {"field": "t"}}
        },
        {
          "data": {"values": [{"d": "2026-08-03", "v": 3512, "t": "公众号•稳见长盈所"}]},
          "mark": {"type": "text", "fontSize": 31, "color": "#B0B0B0", "align": "center", "baseline": "middle", "font": "'Noto Sans', 'Noto Sans CJK SC'"},
          "encoding": {"text": {"field": "t"}}
        }
      ]
    },
    {
      "encoding": {
        "y": {
          "field": "v", "type": "quantitative",
          "scale": {"domain": [-18.88, 19.72], "nice": false, "zero": false},
          "axis": {
            "orient": "right", "values": [-15, -10, -5, 0, 5, 10, 15], "labelExpr": "'' + datum.value", "domain": false, "labelFontSize": 24, "labelPadding": 13,
            "title": "60日均线偏离率(%)", "titleColor": "#A52A2A", "titleFontSize": 27, "titleFontWeight": "normal", "titleFont": "Noto Sans CJK SC",
            "titleAngle": 270, "titleBaseline": "top", "titlePadding": 12
          }
        }
      },
      "layer": [
        {
          "data": {"values": [{"d": "2025-08-04T23:17:00Z", "d2": "2026-08-12T09:36:00Z", "v": 0}]},
          "mark": {"type": "rule", "color": "#808080", "opacity": 0.3, "strokeWidth": 3},
          "encoding": {"x2": {"field": "d2"}}
        },
        {
          "data": {"values": [{"d": "2025-08-04T23:17:00Z", "d2": "2026-08-12T09:36:00Z", "v": 14}]},
          "mark": {"type": "rule", "color": "#FF0000", "opacity": 0.3, "strokeWidth": 3.2, "strokeDash": [3.2, 6.6]},
          "encoding": {"x2": {"field": "d2"}}
        },
        {
          "data": {"values": [{"d": "2025-08-04T23:17:00Z", "d2": "2026-08-12T09:36:00Z", "v": -9}]},
          "mark": {"type": "rule", "color": "#008000", "opacity": 0.3, "strokeWidth": 3.2, "strokeDash": [3.2, 6.6]},
          "encoding": {"x2": {"field": "d2"}}
        },
        {
          "data": {"name": "right"},
          "mark": {"type": "line"},
          "encoding": {
            "color": {"field": "s", "type": "nominal", "scale": {"domain": ["收盘价", "60日均线", "上证指数偏离率", "创业板偏离率"], "range": ["#FFA500", "#A94442", "#F5C061", "#B8666C"]}, "legend": {"title": null}},
            "strokeWidth": {"field": "s", "type": "nominal", "scale": {"type": "ordinal", "domain": ["收盘价", "60日均线", "上证指数偏离率", "创业板偏离率"], "range": [3.5, 2, 1.5, 1.5]}, "legend": {"title": null}}
          }
        }
      ]
    }
  ]
}
